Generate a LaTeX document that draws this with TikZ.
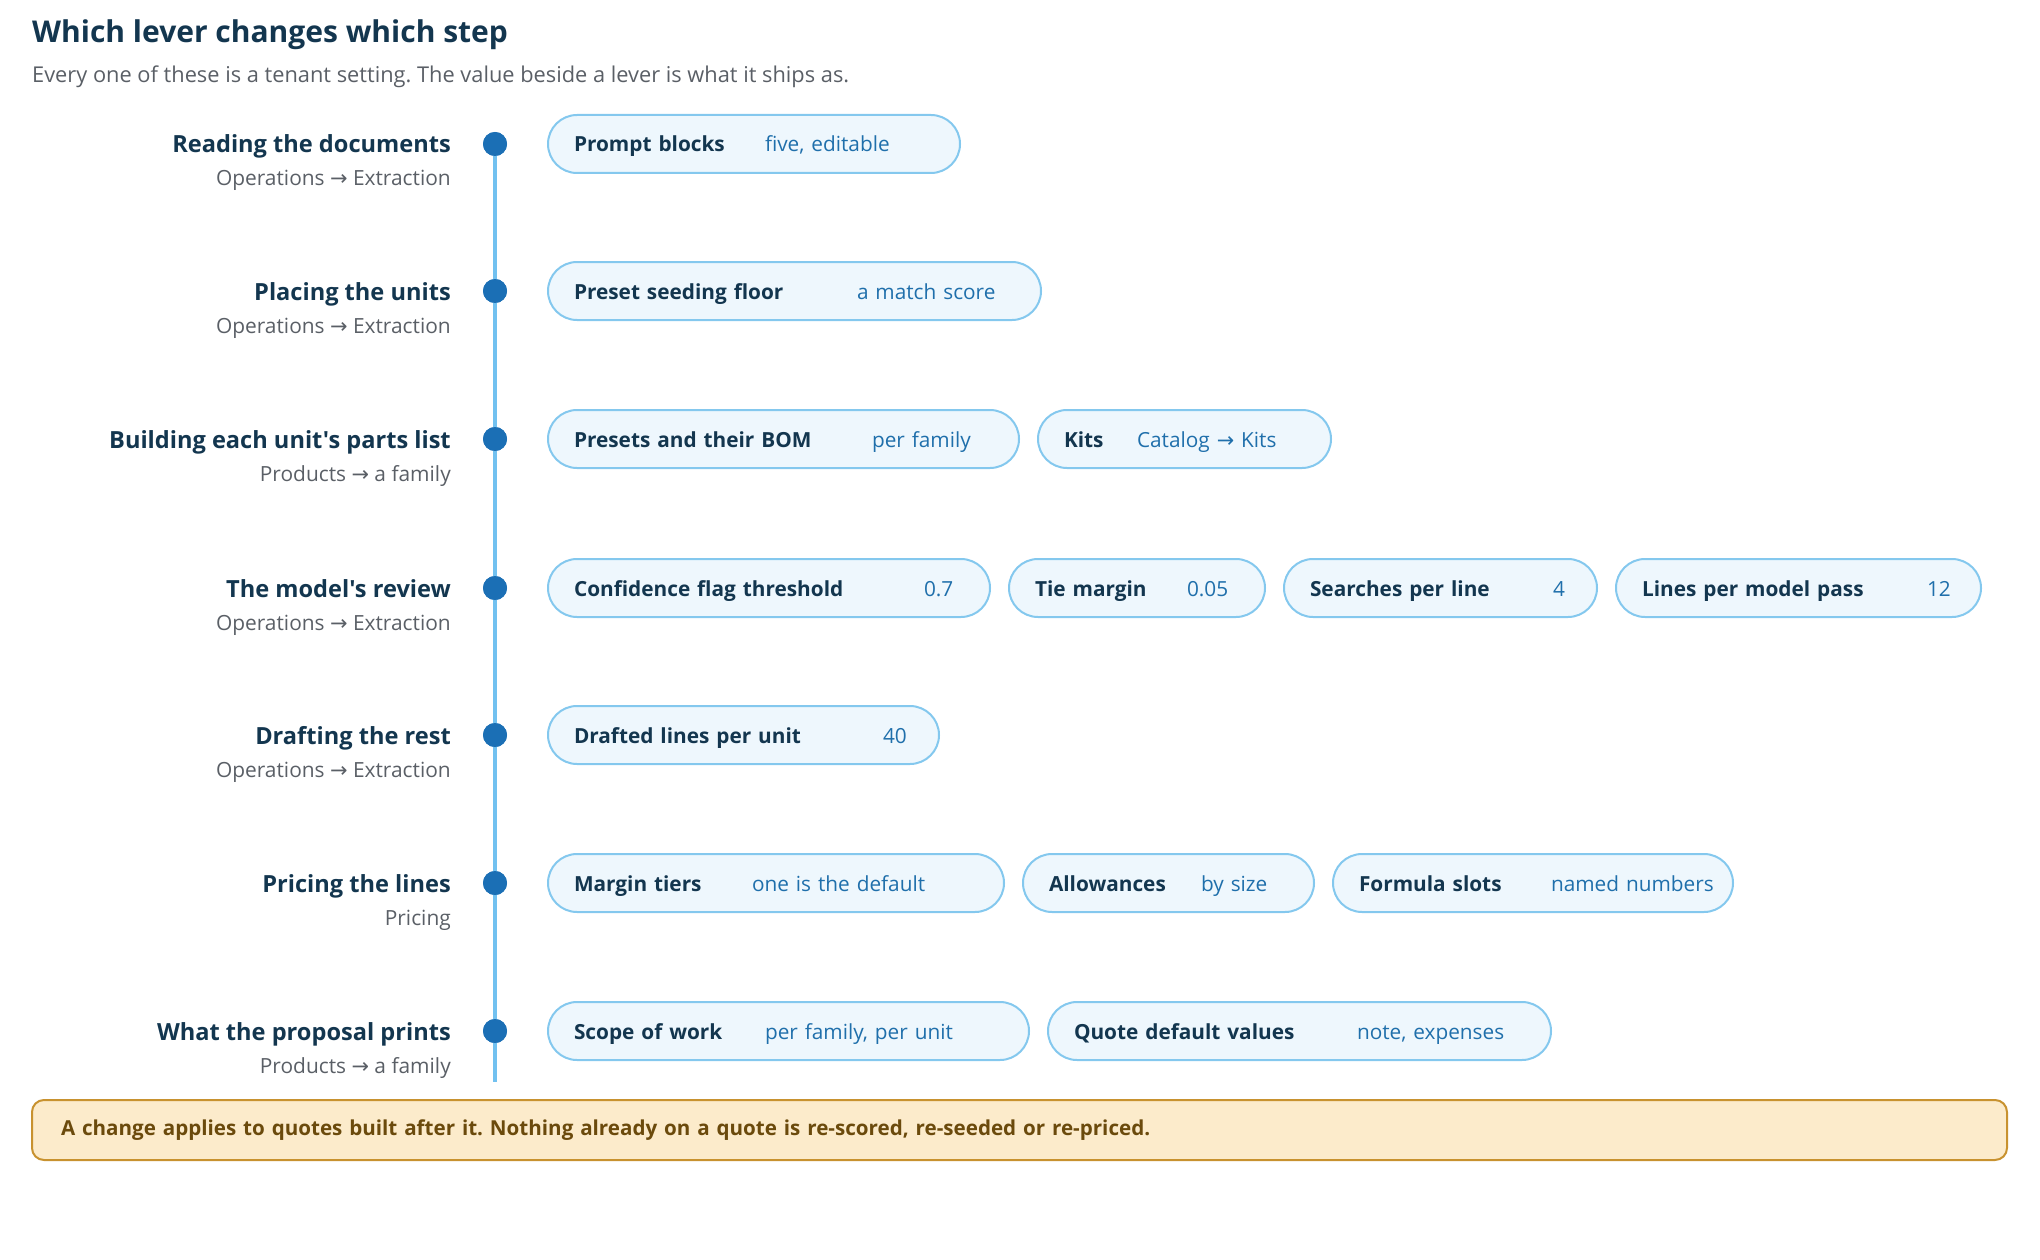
\documentclass[tikz,border=0pt]{standalone}
\usepackage{fontspec}
\setmainfont{Open Sans}[Ligatures=TeXOff]
\newfontfamily\arrowfont{DejaVu Sans}
\usetikzlibrary{positioning}
\frenchspacing

\definecolor{navy}{HTML}{13364F}
\definecolor{greytext}{HTML}{5A5F66}
\definecolor{valblue}{HTML}{1F6FAB}
\definecolor{dotcol}{HTML}{1B6FB5}
\definecolor{linecol}{HTML}{72C1F0}
\definecolor{chipfill}{HTML}{EEF7FD}
\definecolor{chipline}{HTML}{84C8EE}
\definecolor{notefill}{HTML}{FCEBCB}
\definecolor{noteline}{HTML}{C8922F}
\definecolor{notetext}{HTML}{6B4A0C}

\newcommand{\arr}{{\arrowfont\char"2192}}
\newcommand{\lever}[3]{\mbox{\makebox[#1][l]{\bfseries\color{navy}#2}{\color{valblue}#3}}}

\begin{document}
\begin{tikzpicture}[x=1pt, y=-1pt]
        \tikzset{
          stagename/.style={anchor=base east, inner sep=0pt, text=navy, font=\fontsize{23.6}{28}\selectfont\bfseries},
          stagesub/.style={anchor=base east, inner sep=0pt, text=greytext, font=\fontsize{20.9}{25}\selectfont},
          dot/.style={circle, fill=dotcol, minimum size=24pt, inner sep=0pt},
          chip/.style={rectangle, rounded corners=29pt, draw=chipline, line width=2pt, fill=chipfill, minimum height=58pt, inner xsep=26pt, inner ysep=0pt, text height=16pt, text depth=0pt, text width=#1, align=left, font=\fontsize{20.8}{25}\selectfont},
          gap/.style={right=17pt of #1},
          note/.style={rectangle, rounded corners=12pt, draw=noteline, line width=2pt, fill=notefill, minimum height=60pt, inner xsep=29pt, text width=1917pt, align=left, text=notetext, font=\fontsize{20.6}{25}\selectfont\bfseries}
        }
        \useasboundingbox (0,0) rectangle (2040,1260);

        % heading
        \node (title) [anchor=base west, inner sep=0pt, text=navy, font=\fontsize{30}{36}\selectfont\bfseries] at (32,43) {Which lever changes which step};
        \node (intro) [anchor=base west, inner sep=0pt, text=greytext, font=\fontsize{21.8}{26}\selectfont] at (32,83) {Every one of these is a tenant setting. The value beside a lever is what it ships as.};

        % timeline
        \node (d1) [dot] at (495,144) {};
        \node (d2) [dot] at (495,291) {};
        \node (d3) [dot] at (495,439) {};
        \node (d4) [dot] at (495,588) {};
        \node (d5) [dot] at (495,735) {};
        \node (d6) [dot] at (495,883) {};
        \node (d7) [dot] at (495,1031) {};
        \coordinate (tlend) at (495,1082);
        \draw[linecol, line width=4pt] (d1.center) -- (tlend);
        \foreach \d in {d1,d2,d3,d4,d5,d6,d7} \node [dot] at (\d) {};

        % stages
        \node (s1) [stagename] at (451,153) {Reading the documents};
        \node (s1b) [stagesub] at (451,186) {Operations \arr{} Extraction};
        \node (s2) [stagename] at (451,300) {Placing the units};
        \node (s2b) [stagesub] at (451,333) {Operations \arr{} Extraction};
        \node (s3) [stagename] at (451,448) {Building each unit's parts list};
        \node (s3b) [stagesub] at (451,481) {Products \arr{} a family};
        \node (s4) [stagename] at (451,597) {The model's review};
        \node (s4b) [stagesub] at (451,630) {Operations \arr{} Extraction};
        \node (s5) [stagename] at (451,744) {Drafting the rest};
        \node (s5b) [stagesub] at (451,777) {Operations \arr{} Extraction};
        \node (s6) [stagename] at (451,892) {Pricing the lines};
        \node (s6b) [stagesub] at (451,925) {Pricing};
        \node (s7) [stagename] at (451,1040) {What the proposal prints};
        \node (s7b) [stagesub] at (451,1073) {Products \arr{} a family};

        % levers
        \node (c11) [chip=360pt, anchor=west] at (547,144) {\lever{191pt}{Prompt blocks}{five, editable}};
        \node (c21) [chip=441pt, anchor=west] at (547,291) {\lever{283pt}{Preset seeding floor}{a match score}};
        \node (c31) [chip=419pt, anchor=west] at (547,439) {\lever{298pt}{Presets and their BOM}{per family}};
        \node (c32) [chip=241pt, gap=c31] {\lever{73pt}{Kits}{Catalog \arr{} Kits}};
        \node (c41) [chip=390pt, anchor=west] at (547,588) {\lever{350pt}{Confidence flag threshold}{0.7}};
        \node (c42) [chip=204pt, gap=c41] {\lever{152pt}{Tie margin}{0.05}};
        \node (c43) [chip=261pt, gap=c42] {\lever{243pt}{Searches per line}{4}};
        \node (c44) [chip=313pt, gap=c43] {\lever{285pt}{Lines per model pass}{12}};
        \node (c51) [chip=339pt, anchor=west] at (547,735) {\lever{309pt}{Drafted lines per unit}{40}};
        \node (c61) [chip=404pt, anchor=west] at (547,883) {\lever{178pt}{Margin tiers}{one is the default}};
        \node (c62) [chip=239pt, gap=c61] {\lever{152pt}{Allowances}{by size}};
        \node (c63) [chip=348pt, gap=c62] {\lever{192pt}{Formula slots}{named numbers}};
        \node (c71) [chip=429pt, anchor=west] at (547,1031) {\lever{191pt}{Scope of work}{per family, per unit}};
        \node (c72) [chip=451pt, gap=c71] {\lever{283pt}{Quote default values}{note, expenses}};

        % footnote
        \node (note) [note, anchor=north west] at (31,1099) {A change applies to quotes built after it. Nothing already on a quote is re-scored, re-seeded or re-priced.};
\end{tikzpicture}
\end{document}
